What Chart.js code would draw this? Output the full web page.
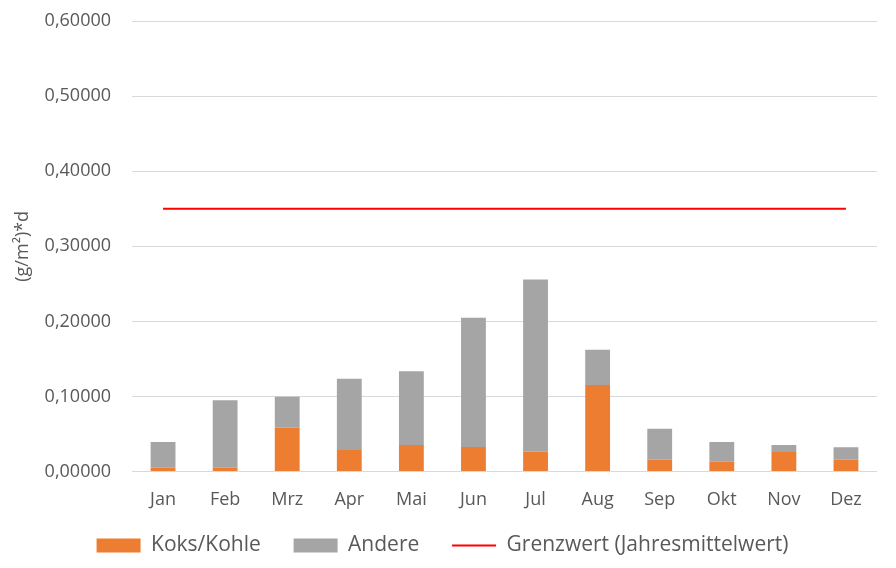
<!DOCTYPE html>
<html lang="de">
<head>
  <meta charset="UTF-8">
  <title>Staubniederschlag</title>
  <style>
    body { margin: 0; background: #fff; }
  </style>
</head>
<body>
  <div style="width: 896px; height: 568px;">
    <canvas id="myChart"></canvas>
  </div>

  <script src="https://cdn.jsdelivr.net/npm/chart.js"></script>
  <script>
    const months = ['Jan', 'Feb', 'Mrz', 'Apr', 'Mai', 'Jun', 'Jul', 'Aug', 'Sep', 'Okt', 'Nov', 'Dez'];
    const koksKohle = [0.0054, 0.0054, 0.0583, 0.0287, 0.0354, 0.0327, 0.0269, 0.1153, 0.0157, 0.0130, 0.0260, 0.0157];
    const andere = [0.0340, 0.0896, 0.0413, 0.0951, 0.0983, 0.1723, 0.2290, 0.0471, 0.0412, 0.0264, 0.0094, 0.0166];
    const grenzwert = [0.35, 0.35, 0.35, 0.35, 0.35, 0.35, 0.35, 0.35, 0.35, 0.35, 0.35, 0.35];

    const textColor = '#595959';
    const font = { family: "'Open Sans', sans-serif", size: 18 };
    const legendFont = { family: "'Open Sans', sans-serif", size: 21 };

    const ctx = document.getElementById('myChart');

    // default legend items, with a little extra room after all but the last one
    const legendLabels = (chart) => {
      const items = Chart.defaults.plugins.legend.labels.generateLabels(chart);
      return items.map((item, i) => i < items.length - 1 ? { ...item, text: item.text + '    ' } : item);
    };

    new Chart(ctx, {
      type: 'bar',
      data: {
        labels: months,
        datasets: [
          {
            label: 'Koks/Kohle',
            data: koksKohle,
            backgroundColor: '#ED7D31',
            stack: 'bars',
            pointStyle: 'rect',
            order: 2
          },
          {
            label: 'Andere',
            data: andere,
            backgroundColor: '#A5A5A5',
            stack: 'bars',
            pointStyle: 'rect',
            order: 2
          },
          {
            type: 'line',
            label: 'Grenzwert (Jahresmittelwert)',
            data: grenzwert,
            borderColor: '#FF0000',
            backgroundColor: '#FF0000',
            borderWidth: 2,
            pointRadius: 0,
            stack: 'limit',
            pointStyle: 'line',
            order: 3
          }
        ]
      },
      options: {
        responsive: true,
        maintainAspectRatio: false,
        animation: false,
        layout: { padding: { left: 8, right: 19, top: 21, bottom: 2 } },
        datasets: {
          bar: { barPercentage: 0.4, categoryPercentage: 1 }
        },
        scales: {
          x: {
            stacked: true,
            grid: { display: false },
            border: { display: false },
            ticks: { color: textColor, font, padding: 9 }
          },
          y: {
            stacked: true,
            min: 0,
            max: 0.6,
            ticks: {
              stepSize: 0.1,
              color: textColor,
              font,
              padding: 21,
              callback: (v) => v.toFixed(5).replace('.', ',')
            },
            grid: { color: '#D9D9D9', lineWidth: 1, drawTicks: false },
            border: { display: false },
            title: {
              display: true,
              text: '(g/m²)*d',
              color: textColor,
              font,
              padding: { top: 4, bottom: 4 }
            },
            afterFit: (scale) => { scale.width -= 14; scale.paddingTop = 0; }
          }
        },
        plugins: {
          tooltip: { enabled: false },
          legend: {
            position: 'bottom',
            // empty title only to push the items down a few pixels
            title: { display: true, text: '', font: { size: 4 }, padding: 0 },
            labels: {
              color: textColor,
              font: legendFont,
              usePointStyle: true,
              pointStyleWidth: 44,
              boxHeight: 14,
              padding: 11,
              generateLabels: legendLabels
            }
          }
        }
      }
    });
  </script>
</body>
</html>
